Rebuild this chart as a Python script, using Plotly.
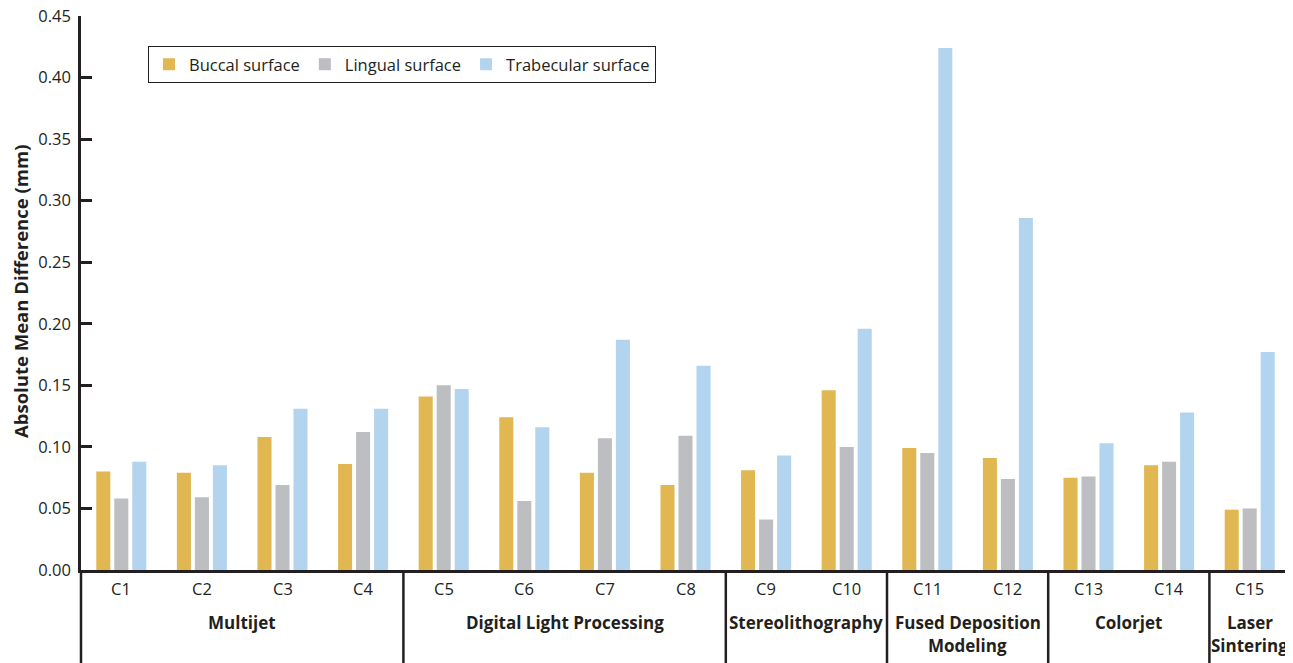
import plotly.graph_objects as go

categories = ["C1", "C2", "C3", "C4", "C5", "C6", "C7", "C8",
              "C9", "C10", "C11", "C12", "C13", "C14", "C15"]
buccal = [0.080, 0.079, 0.108, 0.086, 0.141, 0.124, 0.079, 0.069,
          0.081, 0.146, 0.099, 0.091, 0.075, 0.085, 0.049]
lingual = [0.058, 0.059, 0.069, 0.112, 0.150, 0.056, 0.107, 0.109,
           0.041, 0.100, 0.095, 0.074, 0.076, 0.088, 0.050]
trabecular = [0.088, 0.085, 0.131, 0.131, 0.147, 0.116, 0.187, 0.166,
              0.093, 0.196, 0.424, 0.286, 0.103, 0.128, 0.177]
series_names = ["Buccal surface", "Lingual surface", "Trabecular surface"]
series_colors = ["#E1B752", "#BDBEC1", "#B3D4EE"]
y_ticks = [0.0, 0.05, 0.10, 0.15, 0.20, 0.25, 0.30, 0.35, 0.40, 0.45]

# technology groups: (label lines, first index, last index)
groups = [
    (["Multijet"], 0, 3),
    (["Digital Light Processing"], 4, 7),
    (["Stereolithography"], 8, 9),
    (["Fused Deposition", "Modeling"], 10, 11),
    (["Colorjet"], 12, 13),
    (["Laser", "Sintering"], 14, 14),
]

SCREEN_W, SCREEN_H = 1293, 663
OFF = 8  # default page body margin
W, H = SCREEN_W - OFF, SCREEN_H - OFF
M_T, M_B, M_L, M_R = 16 - OFF, 93, 81 - OFF, 3
PLOT_H = H - M_T - M_B
PLOT_W = W - M_L - M_R
ZERO_PX = SCREEN_H - M_B  # screen row of y = 0
FONT = "'Open Sans', sans-serif"
DARK = "#231F20"
FS = 16.5
FSB = 17
FST = 18.5


def py(p):
    """screen pixel row -> paper y"""
    return (ZERO_PX - p) / PLOT_H


def px(p):
    """screen pixel column -> paper x"""
    return (p - OFF - M_L) / PLOT_W


fig = go.Figure()
for name, vals, col in zip(series_names, [buccal, lingual, trabecular], series_colors):
    fig.add_trace(go.Bar(x=categories, y=vals, name=name,
                         marker=dict(color=col, line=dict(width=0))))

shapes = []
annotations = []
n = len(categories)
shapes.append(dict(type="line", xref="paper", yref="paper", x0=0, x1=0, y0=0, y1=py(SCREEN_H + 4),
                   line=dict(color=DARK, width=2.5)))
for label, i0, i1 in groups:
    xb = (i1 + 1) / n
    shapes.append(dict(type="line", xref="paper", yref="paper", x0=xb, x1=xb, y0=0, y1=py(SCREEN_H + 4),
                       line=dict(color=DARK, width=2.5)))
    xc = (i0 + i1) / 2
    for k, line in enumerate(label):
        annotations.append(dict(x=xc, xref="x", yref="paper", y=py(622 + 23 * k), yanchor="middle",
                                text="<b>%s</b>" % line, showarrow=False,
                                font=dict(size=FSB, color=DARK, family=FONT)))
for i, c in enumerate(categories):
    annotations.append(dict(x=i, xref="x", yref="paper", y=py(588), yanchor="middle",
                            text=c, showarrow=False, font=dict(size=FS, color=DARK, family=FONT)))

annotations.append(dict(xref="paper", yref="paper", x=px(20), y=py(292),
                        text="<b>Absolute Mean Difference (mm)</b>", textangle=-90, showarrow=False,
                        xanchor="center", yanchor="middle",
                        font=dict(size=FST, color=DARK, family=FONT)))

fig.update_layout(
    width=W, height=H,
    margin=dict(l=M_L, r=M_R, t=M_T, b=M_B, pad=0, autoexpand=False),
    paper_bgcolor="white", plot_bgcolor="white",
    barmode="group", bargap=0.33, bargroupgap=0.22,
    font=dict(family=FONT, size=FS, color=DARK),
    showlegend=True,
    legend=dict(orientation="h", x=px(148), y=py(46), xanchor="left", yanchor="top",
                bordercolor=DARK, borderwidth=1, bgcolor="white",
                font=dict(size=FS, color=DARK, family=FONT), tracegroupgap=0),
    xaxis=dict(range=[-0.5, n - 0.5], showticklabels=False, ticks="", showline=True,
               linecolor=DARK, linewidth=2.5, showgrid=False, zeroline=False, automargin=False),
    yaxis=dict(range=[0, 0.45], tickvals=y_ticks, ticktext=["%.2f" % v for v in y_ticks],
               ticks="inside", ticklen=11, tickwidth=2.5, tickcolor=DARK, showline=True,
               linecolor=DARK, linewidth=2.5, showgrid=False, zeroline=False, automargin=False,
               ticklabelstandoff=4, ticklabeloverflow="allow",
               tickfont=dict(size=FS, color=DARK, family=FONT)),
    shapes=shapes, annotations=annotations,
)

fig.write_html("out.html")
